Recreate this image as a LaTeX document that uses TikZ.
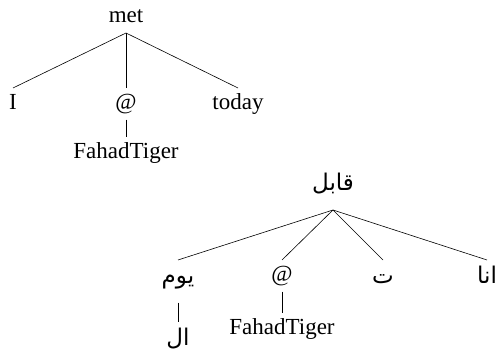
\documentclass[tikz,border=0pt]{standalone}
\usepackage{fontspec}
\setmainfont{Liberation Serif}
\newfontfamily\arabicfont[Script=Arabic]{DejaVu Sans}
\TeXXeTstate=1
\usetikzlibrary{positioning}

\begin{document}
\begin{tikzpicture}[x=1pt,y=-1pt,line width=0.6pt,
	word/.style={font=\fontsize{23}{27}\selectfont, inner xsep=0pt, inner ysep=6pt, text height=15pt, text depth=4pt},
	arword/.style={font=\arabicfont\fontsize{23}{27}\selectfont, inner xsep=0pt, inner ysep=6pt, text height=17pt, text depth=13pt}]
		\useasboundingbox (0,0) rectangle (498,352);

		\node[word,anchor=south] (met) at (126,33) {met};
		\node[word,anchor=north] (i) at (13,88) {I};
		\node[word,anchor=north] (at) at (126,88) {@};
		\node[word,anchor=north] (today) at (238,88) {today};
		\node[word,anchor=north] (fahad) at (126,137) {FahadTiger};
		\draw (met.south) -- (i.north);
		\draw (met.south) -- (at.north);
		\draw (met.south) -- (today.north);
		\draw (at.south) -- (fahad.north);

		\node[arword,anchor=south] (qabil) at (333,210) {\beginR قابل\endR};
		\node[arword,anchor=north] (yawm) at (178,260) {\beginR يوم\endR};
		\node[word,anchor=north] (arat) at (282,260) {@};
		\node[arword,anchor=north] (ta) at (383,260) {\beginR ت\endR};
		\node[arword,anchor=north] (ana) at (487,260) {\beginR انا\endR};
		\node[word,anchor=north] (arfahad) at (282,313) {FahadTiger};
		\node[arword,anchor=north] (al) at (178,322) {\beginR ال\endR};
		\draw (qabil.south) -- (yawm.north);
		\draw (qabil.south) -- (arat.north);
		\draw (qabil.south) -- (ta.north);
		\draw (qabil.south) -- (ana.north);
		\draw (yawm.south) -- (al.north);
		\draw (arat.south) -- (arfahad.north);
	\end{tikzpicture}
\end{document}
